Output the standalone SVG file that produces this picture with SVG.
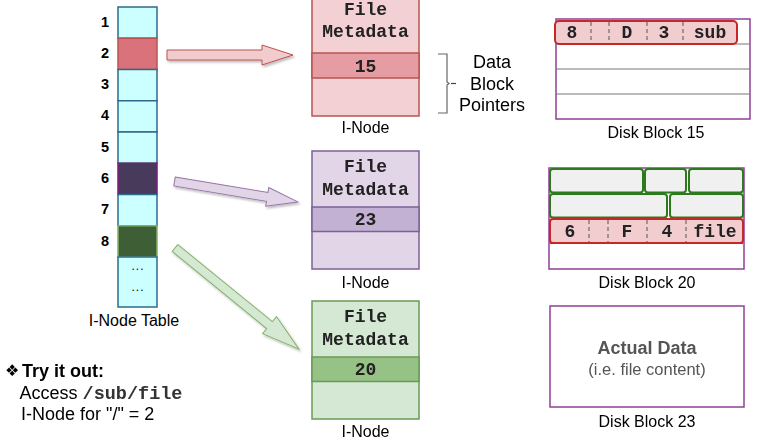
<svg xmlns="http://www.w3.org/2000/svg" width="773" height="439" viewBox="0 0 773 439">
<defs>
<style>
.sans{font-family:"Liberation Sans",Arial,sans-serif;fill:#000}
.mono{font-family:"Liberation Mono","Courier New",monospace;font-weight:bold;fill:#222}
.num{font-family:"Liberation Sans",Arial,sans-serif;font-weight:bold;font-size:14.5px;text-anchor:middle}
.cell{fill:#ccffff;stroke:#2f6a8c;stroke-width:1.5}
.lbl{font-size:16px;text-anchor:middle}
.ent{font-size:18px;text-anchor:middle}
.sep{stroke:#555;stroke-width:1;stroke-dasharray:4 3}
.gbox{fill:#f0f0f0;stroke:#2d7a1e;stroke-width:2}
.rbox{fill:#f2cdd0;stroke:#c62828;stroke-width:2}
</style>
<filter id="sh" x="-10%" y="-20%" width="130%" height="150%">
<feDropShadow dx="1.5" dy="2" stdDeviation="1.2" flood-color="#000" flood-opacity="0.25"/>
</filter>
</defs>
<rect width="773" height="439" fill="#fff"/>

<g id="inode-table">
<rect class="cell" x="118" y="7" width="39" height="31.25"/>
<rect x="118" y="38.25" width="39" height="31.25" fill="#d9727a" stroke="#b85450" stroke-width="1.5"/>
<rect class="cell" x="118" y="69.5" width="39" height="31.25"/>
<rect class="cell" x="118" y="100.75" width="39" height="31.25"/>
<rect class="cell" x="118" y="132" width="39" height="31.25"/>
<rect x="118" y="163.25" width="39" height="31.25" fill="#483a5a" stroke="#7a1f78" stroke-width="1.5"/>
<rect class="cell" x="118" y="194.5" width="39" height="31.25"/>
<rect x="118" y="225.75" width="39" height="31.25" fill="#3e5f35" stroke="#82b366" stroke-width="1.5"/>
<rect class="cell" x="118" y="257" width="39" height="50"/>
<text class="num" x="138" y="270" style="font-weight:normal;font-size:12px;letter-spacing:1px">...</text>
<text class="num" x="138" y="291" style="font-weight:normal;font-size:12px;letter-spacing:1px">...</text>
<text class="num" x="105" y="27">1</text>
<text class="num" x="105" y="58">2</text>
<text class="num" x="105" y="89">3</text>
<text class="num" x="105" y="120">4</text>
<text class="num" x="105" y="152">5</text>
<text class="num" x="105" y="183">6</text>
<text class="num" x="105" y="214">7</text>
<text class="num" x="105" y="246">8</text>
<text class="sans lbl" x="134" y="326">I-Node Table</text>
</g>

<g id="connectors" filter="url(#sh)">
<polygon transform="translate(167,55)" points="0,-5 95,-5 95,-10 126,0 95,10 95,5 0,5" fill="#f2cbce" stroke="#b85450" stroke-width="1"/>
<polygon transform="translate(174.5,181.5) rotate(9.4)" points="0,-4.5 94,-4.5 94,-9.5 125,0 94,9.5 94,4.5 0,4.5" fill="#e1d5e7" stroke="#9673a6" stroke-width="1"/>
<polygon transform="translate(175,248) rotate(39.2)" points="0,-4.5 122,-4.5 122,-11 160,0 122,11 122,4.5 0,4.5" fill="#d5e8d4" stroke="#82b366" stroke-width="1"/>
</g>

<g id="inode-1">
<rect x="312" y="-3" width="107" height="119" fill="#f2d0d4" stroke="#b85450" stroke-width="1.5"/>
<rect x="312" y="53" width="107" height="25" fill="#e59ca2" stroke="#b85450" stroke-width="1.5"/>
<text class="mono ent" x="365.5" y="15">File</text>
<text class="mono ent" x="365.5" y="37">Metadata</text>
<text class="mono ent" x="365.5" y="72">15</text>
<text class="sans lbl" x="365.5" y="133">I-Node</text>
</g>

<g id="pointers-brace">
<path d="M438,54 L447,54 L447,82 L449,83.5 L447,85 L447,113 L438,113" fill="none" stroke="#666" stroke-width="1.2"/>
<line x1="451" y1="83.5" x2="456" y2="83.5" stroke="#444" stroke-width="1.2"/>
<text class="sans" x="492" y="68" font-size="18" text-anchor="middle">Data</text>
<text class="sans" x="492" y="90" font-size="18" text-anchor="middle">Block</text>
<text class="sans" x="492" y="111" font-size="18" text-anchor="middle">Pointers</text>
</g>

<g id="inode-2">
<rect x="312" y="151" width="107" height="118" fill="#e1d5e7" stroke="#7b6296" stroke-width="1.5"/>
<rect x="312" y="207" width="107" height="24.5" fill="#c3b1d4" stroke="#7b6296" stroke-width="1.5"/>
<text class="mono ent" x="365.5" y="172">File</text>
<text class="mono ent" x="365.5" y="195">Metadata</text>
<text class="mono ent" x="365.5" y="225">23</text>
<text class="sans lbl" x="365.5" y="288">I-Node</text>
</g>

<g id="inode-3">
<rect x="312" y="301" width="107" height="118" fill="#d5e8d4" stroke="#6a9b56" stroke-width="1.5"/>
<rect x="312" y="357" width="107" height="24.5" fill="#97c286" stroke="#6a9b56" stroke-width="1.5"/>
<text class="mono ent" x="365.5" y="322">File</text>
<text class="mono ent" x="365.5" y="345">Metadata</text>
<text class="mono ent" x="365.5" y="375">20</text>
<text class="sans lbl" x="365.5" y="437">I-Node</text>
</g>

<g id="disk-block-15">
<rect x="556" y="19" width="194" height="100" fill="#fff" stroke="#8f3f98" stroke-width="1.5"/>
<line x1="556" y1="44" x2="750" y2="44" stroke="#777" stroke-width="1"/>
<line x1="556" y1="69" x2="750" y2="69" stroke="#777" stroke-width="1"/>
<line x1="556" y1="94" x2="750" y2="94" stroke="#777" stroke-width="1"/>
<rect class="rbox" x="555" y="21" width="182" height="23" rx="4"/>
<line class="sep" x1="591" y1="22" x2="591" y2="43"/>
<line class="sep" x1="609" y1="22" x2="609" y2="43"/>
<line class="sep" x1="647" y1="22" x2="647" y2="43"/>
<line class="sep" x1="683" y1="22" x2="683" y2="43"/>
<text class="mono ent" x="572" y="38">8</text>
<text class="mono ent" x="627" y="38">D</text>
<text class="mono ent" x="664" y="38">3</text>
<text class="mono ent" x="710" y="38">sub</text>
<text class="sans lbl" x="656" y="138">Disk Block 15</text>
</g>

<g id="disk-block-20">
<rect x="549" y="168" width="195" height="101" fill="#fff" stroke="#8f3f98" stroke-width="1.5"/>
<rect class="gbox" x="550" y="169" width="93" height="23.5" rx="3"/>
<rect class="gbox" x="645" y="169" width="41" height="23.5" rx="3"/>
<rect class="gbox" x="689" y="169" width="54" height="23.5" rx="3"/>
<rect class="gbox" x="550" y="194" width="117" height="23.5" rx="3"/>
<rect class="gbox" x="670" y="194" width="73" height="23.5" rx="3"/>
<rect class="rbox" x="550" y="219" width="193" height="24" rx="3"/>
<line class="sep" x1="589" y1="220" x2="589" y2="242"/>
<line class="sep" x1="608" y1="220" x2="608" y2="242"/>
<line class="sep" x1="647" y1="220" x2="647" y2="242"/>
<line class="sep" x1="686" y1="220" x2="686" y2="242"/>
<line class="sep" x1="550" y1="243.5" x2="743" y2="243.5"/>
<text class="mono ent" x="570" y="237">6</text>
<text class="mono ent" x="627" y="237">F</text>
<text class="mono ent" x="667" y="237">4</text>
<text class="mono ent" x="715" y="237">file</text>
<text class="sans lbl" x="647" y="288">Disk Block 20</text>
</g>

<g id="disk-block-23">
<rect x="550" y="306" width="194" height="101" fill="#fff" stroke="#8f3f98" stroke-width="1.5"/>
<text class="sans" x="647" y="354" font-size="18" font-weight="bold" text-anchor="middle" style="fill:#555">Actual Data</text>
<text class="sans" x="647" y="375" font-size="16.5" text-anchor="middle" style="fill:#555">(i.e. file content)</text>
<text class="sans lbl" x="647" y="427">Disk Block 23</text>
</g>

<g id="try-it-out">
<text x="5" y="376" font-size="16" font-family="'DejaVu Sans',sans-serif">❖</text>
<text class="sans" x="22" y="377" font-size="18" font-weight="bold">Try it out:</text>
<text class="sans" x="19.5" y="399" font-size="18">Access <tspan class="mono" font-size="18.5" style="fill:#333">/sub/file</tspan></text>
<text class="sans" x="21" y="420" font-size="18">I-Node for "/" = 2</text>
</g>
</svg>
